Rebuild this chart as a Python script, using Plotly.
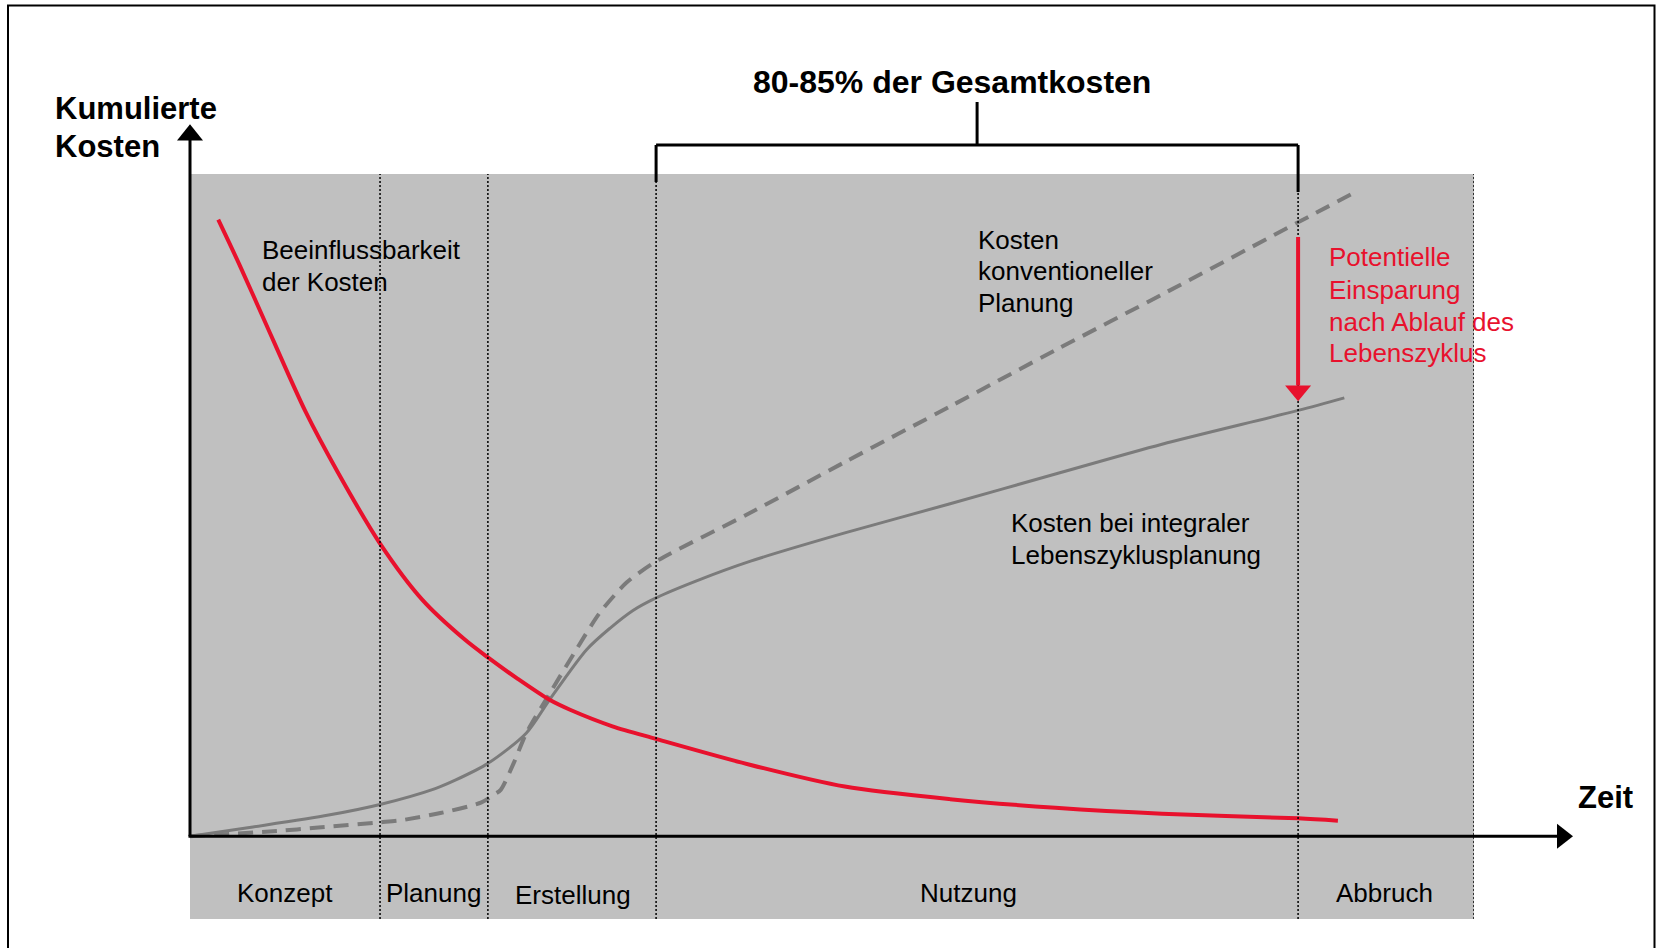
import plotly.graph_objects as go

# ---------------- data (x: % of lifecycle, y: cost index) ----------------
phase_names = ["Konzept", "Planung", "Erstellung", "Nutzung", "Abbruch"]
phase_bounds = [0, 14.8, 23.2, 36.3, 86.3, 100]
phase_label_x = [7.4, 19.0, 29.8, 60.6, 93.0]
phase_label_y = [-8.5, -8.5, -8.8, -8.5, -8.5]

# Beeinflussbarkeit der Kosten (red)
infl_x = [2.2, 3.9, 5.7, 9.0, 11.5, 14.8, 18.1, 21.4, 23.2, 25.5, 28.0, 29.6,
          32.9, 36.3, 43.6, 51.0, 59.2, 67.4, 75.7, 86.3, 89.4]
infl_y = [93.1, 86.1, 78.3, 64.1, 55.0, 44.2, 35.7, 29.7, 27.0, 23.8, 20.6, 19.1,
          16.6, 14.7, 10.8, 7.5, 5.6, 4.3, 3.4, 2.7, 2.35]

# Kosten bei integraler Lebenszyklusplanung (solid grey)
integ_x = [0, 4.9, 10.8, 14.8, 19.1, 20.7, 23.2, 26.2, 28.0, 30.9, 32.7, 34.5, 36.3,
           39.5, 43.6, 51.0, 59.2, 67.4, 75.7, 86.3, 89.9]
integ_y = [0, 1.4, 3.2, 4.8, 7.2, 8.5, 11.0, 15.6, 20.6, 28.2, 31.4, 34.1, 36.0,
           38.6, 41.5, 45.8, 50.2, 54.7, 59.2, 64.3, 66.2]

# Kosten konventioneller Planung (dashed grey)
conv_x = [0, 6.8, 10.0, 14.8, 16.4, 19.5, 22.7, 23.6, 24.2, 25.2, 26.2, 28.0,
          29.9, 31.9, 34.0, 36.3, 43.6, 51.0, 59.2, 67.4, 75.7, 86.3, 90.6]
conv_y = [0, 0.8, 1.3, 2.1, 2.4, 3.5, 5.1, 6.2, 7.0, 11.0, 15.6, 21.5,
          27.6, 33.7, 38.3, 41.5, 48.8, 56.5, 64.9, 73.4, 81.8, 92.7, 97.1]

# savings arrow (at end of Nutzung)
saving_top = 90.5
saving_tip = 65.7

# ---------------- styles ----------------
RED = "#E8112D"
GREY = "#7B7B7B"
BG = "#C0C0C0"
FONT = "Liberation Sans, Arial, sans-serif"
W, H = 1656, 948
ML, MR, MT, MB = 190, 182, 174, 29
XR = [0, 100]
YR = [-12.5, 100]
PW, PH = W - ML - MR, H - MT - MB


def pxx(p):  # pixel x -> paper
    return (p - ML) / PW


def pxy(p):  # pixel y -> paper
    return (H - MB - p) / PH


y0p = (0 - YR[0]) / (YR[1] - YR[0])  # paper y of cost 0

fig = go.Figure()
fig.add_trace(go.Scatter(x=conv_x, y=conv_y, mode="lines",
                         line=dict(color=GREY, width=4, dash="15px,9px", shape="spline", smoothing=0.7),
                         hoverinfo="skip"))
fig.add_trace(go.Scatter(x=integ_x, y=integ_y, mode="lines",
                         line=dict(color=GREY, width=3, shape="spline", smoothing=0.8),
                         hoverinfo="skip"))
fig.add_trace(go.Scatter(x=infl_x, y=infl_y, mode="lines",
                         line=dict(color=RED, width=4, shape="spline", smoothing=0.8),
                         hoverinfo="skip"))

shapes = []
# phase separators (dotted)
for b in phase_bounds[1:]:
    shapes.append(dict(type="line", xref="x", yref="paper", x0=b, x1=b, y0=0, y1=1,
                       line=dict(color="black", width=1.5, dash="2px,2px"), layer="above"))

# y axis arrow
shapes.append(dict(type="line", xref="paper", yref="paper", x0=0, x1=0, y0=y0p, y1=pxy(140),
                   line=dict(color="black", width=3)))
hw = 13 / PW
shapes.append(dict(type="path", xref="paper", yref="paper",
                   path=f"M {-hw},{pxy(140.5)} L {hw},{pxy(140.5)} L 0,{pxy(124.3)} Z",
                   fillcolor="black", line=dict(width=0)))
# x axis arrow
shapes.append(dict(type="line", xref="paper", yref="paper", x0=pxx(188.5), x1=pxx(1558), y0=y0p, y1=y0p,
                   line=dict(color="black", width=3)))
hh = 12.5 / PH
shapes.append(dict(type="path", xref="paper", yref="paper",
                   path=f"M {pxx(1557)},{y0p + hh} L {pxx(1557)},{y0p - hh} L {pxx(1573)},{y0p} Z",
                   fillcolor="black", line=dict(width=0)))

# bracket over the Nutzung phase
bl, br = phase_bounds[3], phase_bounds[4]
bm = (bl + br) / 2
shapes += [
    dict(type="line", xref="x", yref="paper", x0=bl, x1=br, y0=pxy(145), y1=pxy(145),
         line=dict(color="black", width=3)),
    dict(type="line", xref="x", yref="paper", x0=bl, x1=bl, y0=pxy(145), y1=pxy(182),
         line=dict(color="black", width=3)),
    dict(type="line", xref="x", yref="paper", x0=br, x1=br, y0=pxy(145), y1=pxy(192),
         line=dict(color="black", width=3)),
    dict(type="line", xref="x", yref="paper", x0=bm, x1=bm, y0=pxy(145), y1=pxy(102),
         line=dict(color="black", width=3)),
]

# savings arrow
head_len = 15.7 / PH * (YR[1] - YR[0])
head_hw = 13 / PW * (XR[1] - XR[0])
shapes.append(dict(type="line", xref="x", yref="y", x0=br, x1=br, y0=saving_top, y1=saving_tip + head_len,
                   line=dict(color=RED, width=4)))
shapes.append(dict(type="path", xref="x", yref="y",
                   path=f"M {br - head_hw},{saving_tip + head_len} L {br + head_hw},{saving_tip + head_len} L {br},{saving_tip} Z",
                   fillcolor=RED, line=dict(width=0)))

# outer frame
shapes.append(dict(type="rect", xref="paper", yref="paper", x0=pxx(8), x1=pxx(1654.5),
                   y0=pxy(960), y1=pxy(5.5), line=dict(color="black", width=2)))

annotations = []


def txt(text, x, y, xref="x", yref="y", size=26, color="black", xanchor="left"):
    annotations.append(dict(text=text, x=x, y=y, xref=xref, yref=yref, showarrow=False,
                            xanchor=xanchor, yanchor="middle", align="left",
                            font=dict(family=FONT, size=size, color=color)))


# phase labels
for name, lx, ly in zip(phase_names, phase_label_x, phase_label_y):
    txt(name, lx, ly, xanchor="center")

txt("<b>Kumulierte</b>", pxx(53), pxy(108), "paper", "paper", size=31)
txt("<b>Kosten</b>", pxx(53), pxy(146), "paper", "paper", size=31)
txt("<b>80-85% der Gesamtkosten</b>", pxx(951.5), pxy(82), "paper", "paper", size=32, xanchor="center")
txt("<b>Zeit</b>", pxx(1576), pxy(797), "paper", "paper", size=31)

txt("Beeinflussbarkeit", 5.45, 88.5)
txt("der Kosten", 5.45, 83.7)
txt("Kosten", 61.25, 90.1)
txt("konventioneller", 61.25, 85.3)
txt("Planung", 61.25, 80.5)
txt("Kosten bei integraler", 63.75, 47.3)
txt("Lebenszyklusplanung", 63.75, 42.5)
txt("Potentielle", 88.55, 87.4, color=RED)
txt("Einsparung", 88.55, 82.5, color=RED)
txt("nach Ablauf des", 88.55, 77.7, color=RED)
txt("Lebenszyklus", 88.55, 72.9, color=RED)

fig.update_layout(
    width=W, height=H,
    margin=dict(l=ML, r=MR, t=MT, b=MB, pad=0),
    paper_bgcolor="white", plot_bgcolor=BG,
    showlegend=False,
    xaxis=dict(range=XR, visible=False, fixedrange=True),
    yaxis=dict(range=YR, visible=False, fixedrange=True),
    shapes=shapes, annotations=annotations,
    font=dict(family=FONT),
)

fig.write_html("out.html", config={"displayModeBar": False},
               post_script="document.body.style.margin='0px';document.body.style.padding='0px';")
